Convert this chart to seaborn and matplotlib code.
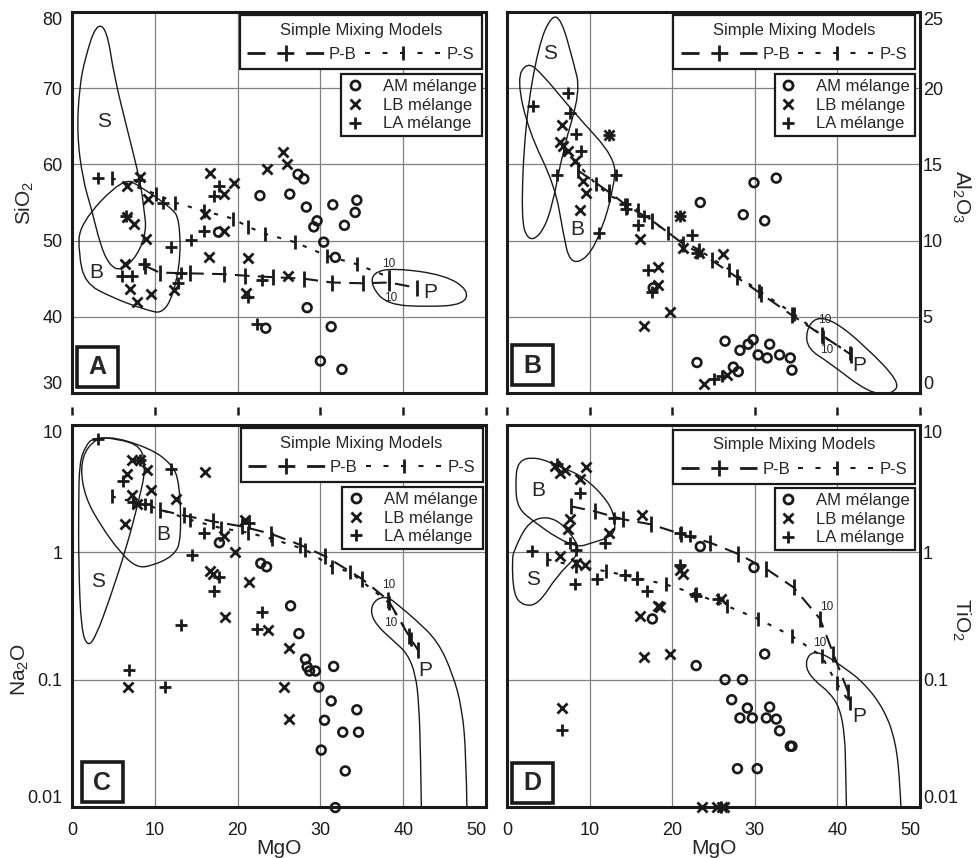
import numpy as np
import pandas as pd
import matplotlib
matplotlib.use("Agg")
import matplotlib.pyplot as plt
from matplotlib.lines import Line2D
from matplotlib.patches import PathPatch, Rectangle
from matplotlib.path import Path
import seaborn as sns

sns.set_theme(style="white")
plt.rcParams["font.family"] = ["Liberation Sans", "DejaVu Sans"]
plt.rcParams["mathtext.fontset"] = "custom"
plt.rcParams["mathtext.rm"] = "Liberation Sans"
plt.rcParams["mathtext.it"] = "Liberation Sans:italic"
plt.rcParams["mathtext.bf"] = "Liberation Sans:bold"

# ---------------------------------------------------------------- data
# (MgO, oxide) pairs, wt%

# Panel A: SiO2
A_AM = [(22.7, 55.9), (26.3, 56.1), (27.3, 58.7), (28.0, 58.1), (28.3, 54.4), (31.5, 54.7),
        (34.4, 55.3), (34.2, 53.7), (29.6, 52.6), (29.2, 51.8), (32.9, 52.0), (17.7, 51.1),
        (30.4, 49.8), (31.8, 47.8), (28.4, 41.2), (23.4, 38.5), (31.3, 38.7), (30.0, 34.2),
        (32.6, 33.1)]
A_LB = [(25.5, 61.6), (26.0, 60.0), (23.5, 59.4), (16.7, 58.9), (19.6, 57.5), (18.4, 56.1),
        (8.2, 58.3), (6.6, 57.2), (9.2, 55.4), (6.6, 53.1), (7.5, 52.2), (8.9, 50.2),
        (16.1, 53.5), (18.3, 51.3), (16.5, 47.9), (21.3, 47.7), (21.0, 43.1), (26.1, 45.3),
        (6.4, 46.9), (7.0, 43.6), (9.6, 43.0), (7.8, 41.9), (12.3, 43.5)]
A_LA = [(3.1, 58.2), (8.1, 57.9), (11.0, 55.0), (17.8, 57.1), (17.2, 55.8), (15.9, 51.2),
        (14.4, 50.1), (11.9, 49.2), (8.7, 46.9), (6.0, 45.4), (7.3, 45.3), (13.2, 45.7),
        (12.8, 44.4), (21.3, 42.6), (22.3, 39.1), (22.9, 44.8), (6.5, 53.2)]
A_PB = [(8.8, 46.7), (10.6, 45.8), (14.3, 45.7), (18.3, 45.6), (20.9, 45.4), (24.3, 45.2),
        (28.0, 45.0), (31.4, 44.5), (35.1, 44.4), (38.3, 44.5), (41.7, 43.8)]
A_PS = [(4.8, 58.2), (10.2, 56.1), (12.4, 55.0), (15.9, 53.9), (19.4, 52.9), (21.3, 51.8),
        (23.3, 50.9), (26.9, 49.8), (30.8, 48.0), (34.4, 46.9), (38.3, 45.2)]
A_S_FIELD = [(2.9, 78.4), (1.6, 74.0), (0.9, 70.2), (0.6, 64.0), (1.3, 58.0), (2.4, 54.0),
             (3.4, 49.5), (4.5, 46.8), (5.9, 46.0), (7.9, 48.0), (9.0, 51.3), (8.7, 54.0),
             (8.3, 57.5), (6.7, 64.5), (5.1, 71.5), (4.2, 77.8)]
A_B_FIELD = [(0.9, 52.2), (6.2, 58.3), (8.4, 57.0), (12.0, 54.3), (13.0, 52.8), (13.1, 46.5),
             (11.4, 40.3), (8.6, 41.0), (4.7, 42.6), (1.6, 44.4), (0.8, 48.2)]
A_P_FIELD = [(36.3, 45.8), (38.9, 46.4), (45.0, 45.5), (47.9, 43.5), (47.3, 41.6), (43.0, 41.3),
             (38.1, 41.6), (36.2, 43.9)]
A_TAGS = [("S", 3.9, 65.6), ("B", 2.9, 45.8), ("P", 43.3, 43.2)]
A_TEN = [(38.3, 46.9), (38.5, 42.5)]

# Panel B: Al2O3
B_AM = [(29.9, 13.8), (32.6, 14.1), (23.4, 12.5), (28.6, 11.7), (31.2, 11.3), (17.7, 6.9),
        (26.4, 3.4), (29.8, 3.5), (29.2, 3.2), (28.2, 2.8), (31.8, 3.2), (30.4, 2.5),
        (33.0, 2.5), (31.5, 2.3), (34.3, 2.3), (34.5, 1.5), (23.0, 2.0), (27.4, 1.7),
        (28.0, 1.4)]
B_LB = [(6.6, 17.6), (6.4, 16.5), (6.8, 16.2), (7.4, 15.9), (8.2, 15.2), (9.2, 13.9),
        (9.6, 13.1), (8.8, 12.0), (12.3, 16.9), (16.1, 10.1), (18.3, 8.3), (18.3, 7.1),
        (19.7, 5.3), (16.6, 4.4), (20.9, 11.6), (21.3, 9.5), (23.2, 9.2), (26.2, 9.1),
        (23.8, 0.6), (26.6, 1.2)]
B_LA = [(3.1, 18.8), (7.4, 19.7), (7.6, 18.4), (8.4, 17.0), (9.0, 15.9), (6.1, 14.3),
        (13.2, 14.3), (12.4, 16.9), (14.3, 12.4), (14.4, 12.1), (16.6, 11.6), (15.9, 11.0),
        (11.1, 10.5), (17.1, 8.1), (17.6, 6.6), (20.9, 11.6), (22.4, 10.4), (23.0, 9.2),
        (25.0, 0.9), (26.0, 1.1)]
B_PB = [(8.6, 14.6), (12.3, 13.2), (14.5, 12.3), (17.6, 11.3), (21.3, 9.8), (24.8, 8.7),
        (27.8, 7.6), (30.8, 6.5), (34.5, 5.1), (38.1, 3.8), (41.7, 2.5)]
B_PS = [(6.9, 16.0), (10.8, 13.7), (12.3, 13.0), (15.9, 12.0), (19.5, 10.5), (23.2, 9.4),
        (26.9, 8.1), (30.5, 6.7), (34.7, 5.2), (38.3, 3.7), (41.5, 2.6)]
B_S_FIELD = [(5.4, 24.8), (3.8, 22.8), (2.2, 17.7), (1.7, 11.5), (2.5, 10.0), (4.0, 10.3),
             (5.4, 12.0), (6.8, 16.0), (8.9, 19.8), (8.0, 21.8), (6.6, 24.5)]
B_B_FIELD = [(1.2, 20.6), (2.4, 21.7), (4.0, 21.1), (8.1, 18.4), (13.2, 15.4), (12.9, 13.4),
             (11.5, 10.7), (9.7, 8.8), (7.6, 8.5), (6.8, 10.5), (5.8, 13.6), (2.6, 17.2)]
B_P_FIELD = [(36.2, 4.1), (37.4, 5.0), (39.7, 4.7), (43.3, 3.1), (47.6, 0.7), (46.6, -0.1),
             (43.8, 0.0), (39.0, 2.0), (36.4, 2.9)]
B_TAGS = [("S", 5.2, 22.3), ("B", 8.5, 10.7), ("P", 42.7, 1.8)]
B_TEN = [(38.5, 4.8), (38.7, 2.8)]

# Panel C: Na2O (log)
C_AM = [(17.8, 1.19), (22.8, 0.82), (23.5, 0.77), (26.4, 0.38), (27.4, 0.23), (28.2, 0.145),
        (28.4, 0.126), (28.7, 0.117), (29.4, 0.117), (31.6, 0.127), (29.8, 0.0875),
        (31.3, 0.068), (34.4, 0.058), (30.5, 0.048), (32.7, 0.0387), (34.6, 0.0387),
        (30.1, 0.028), (33.0, 0.0192), (31.8, 0.0099)]
C_LB = [(7.2, 5.3), (8.2, 5.3), (6.6, 4.1), (9.0, 4.4), (9.6, 3.1), (7.2, 2.8), (7.8, 2.4),
        (6.4, 1.66), (12.5, 2.6), (16.1, 4.3), (18.3, 1.34), (19.7, 1.0), (20.9, 1.79),
        (21.4, 0.59), (16.7, 0.71), (17.0, 0.68), (18.5, 0.31), (23.7, 0.246), (26.2, 0.176),
        (25.6, 0.088), (26.2, 0.049), (6.8, 0.088)]
C_LA = [(3.1, 7.8), (6.1, 3.6), (8.2, 5.3), (12.0, 4.5), (7.4, 2.5), (8.8, 2.4), (16.0, 1.43),
        (14.5, 0.95), (17.7, 0.645), (17.2, 0.5), (22.9, 0.34), (22.3, 0.248), (13.2, 0.267),
        (6.9, 0.119), (11.2, 0.088), (21.4, 1.7)]
C_PB = [(10.6, 2.15), (13.5, 1.95), (17.0, 1.75), (20.5, 1.6), (24.0, 1.4), (27.5, 1.15),
        (30.6, 0.93), (35.0, 0.62), (38.2, 0.42), (40.7, 0.22), (41.8, 0.17)]
C_PS = [(4.8, 2.75), (9.5, 2.3), (14.3, 1.8), (18.0, 1.55), (21.2, 1.43), (24.1, 1.28),
        (28.2, 1.05), (31.4, 0.77), (33.6, 0.7), (38.3, 0.4), (41.0, 0.21)]
C_S_FIELD = [(1.6, 6.8), (2.6, 8.0), (5.5, 7.8), (8.4, 6.8), (8.9, 4.5), (8.1, 2.6), (6.6, 1.1),
             (4.5, 0.42), (2.9, 0.22), (1.9, 0.18), (1.1, 0.25), (0.8, 0.8), (0.8, 2.5),
             (0.9, 5.0)]
C_B_FIELD = [(1.8, 6.8), (4.0, 8.4), (9.4, 6.6), (12.1, 4.9), (13.0, 3.5), (13.2, 1.25),
             (12.3, 0.94), (9.6, 0.78), (7.8, 0.76), (5.8, 1.0), (3.4, 1.65), (1.6, 2.7),
             (1.0, 4.6)]
C_P_FIELD = [(42.2, 0.0095), (42.1, 0.026), (41.9, 0.064), (41.5, 0.11), (40.5, 0.16),
             (38.9, 0.2), (36.7, 0.27), (36.0, 0.35), (36.7, 0.43), (38.1, 0.45), (39.5, 0.38),
             (41.4, 0.30), (44.2, 0.2), (46.0, 0.11), (47.1, 0.06), (47.6, 0.026),
             (47.7, 0.0095)]
C_TAGS = [("S", 3.1, 0.59), ("B", 11.0, 1.38), ("P", 42.7, 0.117)]
C_TEN = [(38.3, 0.55), (38.5, 0.28)]

# Panel D: TiO2 (log)
D_AM = [(23.4, 1.11), (29.9, 0.76), (17.6, 0.30), (31.2, 0.159), (22.9, 0.129), (26.4, 0.1),
        (28.5, 0.1), (27.2, 0.0696), (29.1, 0.0598), (31.8, 0.061), (28.2, 0.05), (29.7, 0.05),
        (31.4, 0.05), (32.6, 0.049), (33.0, 0.0397), (34.3, 0.03), (34.5, 0.03), (27.9, 0.02),
        (30.3, 0.02)]
D_LB = [(5.8, 4.8), (6.4, 4.2), (7.0, 4.4), (8.8, 3.8), (9.6, 4.7), (7.6, 1.82), (7.4, 1.52),
        (12.3, 1.43), (16.3, 1.96), (6.4, 0.94), (8.4, 0.83), (9.4, 0.79), (21.3, 0.67),
        (21.0, 0.72), (25.9, 0.43), (18.3, 0.38), (18.5, 0.37), (16.1, 0.315), (16.6, 0.151),
        (19.7, 0.159), (6.6, 0.06), (23.6, 0.01), (25.4, 0.01), (26.0, 0.01), (26.3, 0.01)]
D_LA = [(6.0, 4.9), (8.8, 2.95), (7.6, 1.19), (8.4, 1.05), (3.0, 1.02), (8.2, 0.56),
        (10.9, 0.62), (14.3, 0.66), (15.7, 0.62), (17.0, 0.50), (21.0, 0.79), (22.8, 0.47),
        (22.9, 0.45), (11.9, 1.19), (21.0, 1.43), (22.1, 1.35), (6.7, 0.04), (13.0, 1.87),
        (25.6, 0.43), (25.9, 0.01)]
D_PB = [(7.7, 2.3), (10.6, 2.1), (14.0, 1.82), (17.4, 1.66), (21.1, 1.39), (24.6, 1.19),
        (28.0, 0.97), (31.4, 0.74), (34.7, 0.53), (37.9, 0.3), (39.5, 0.16), (41.3, 0.08)]
D_PS = [(4.9, 0.88), (8.3, 0.78), (12.0, 0.71), (15.7, 0.63), (19.2, 0.56), (22.9, 0.47),
        (26.6, 0.38), (30.4, 0.30), (34.5, 0.22), (38.1, 0.153), (39.9, 0.094), (41.5, 0.066)]
D_B_FIELD = [(1.3, 5.3), (3.6, 5.6), (6.1, 4.8), (9.4, 3.9), (12.3, 2.5), (13.1, 1.8),
             (13.0, 1.35), (10.0, 1.17), (8.6, 1.1), (6.0, 1.3), (3.4, 1.72), (1.3, 2.2),
             (1.0, 3.4)]
D_S_FIELD = [(0.9, 1.05), (2.3, 1.62), (4.0, 1.9), (5.9, 1.82), (7.4, 1.48), (8.7, 1.12),
             (8.4, 0.92), (6.1, 0.66), (3.8, 0.39), (2.0, 0.38), (0.8, 0.46), (0.6, 0.88)]
D_P_FIELD = [(41.1, 0.0095), (41.0, 0.02), (40.9, 0.036), (40.3, 0.06), (39.0, 0.08),
             (37.3, 0.097), (36.1, 0.124), (36.5, 0.16), (37.9, 0.165), (40.4, 0.13),
             (43.2, 0.095), (45.7, 0.058), (47.1, 0.032), (47.6, 0.0145), (47.7, 0.0095)]
D_TAGS = [("B", 3.8, 3.04), ("S", 3.2, 0.61), ("P", 42.7, 0.051)]
D_TEN = [(38.7, 0.37), (37.9, 0.195)]

MGO_TICKS = [0, 10, 20, 30, 40, 50]
SIO2_TICKS = [30, 40, 50, 60, 70, 80]
AL2O3_TICKS = [0, 5, 10, 15, 20, 25]
LOG_TICKS = [0.01, 0.1, 1, 10]
LOG_LABELS = ["0.01", "0.1", "1", "10"]

# ---------------------------------------------------------------- helpers
W, H = 977, 858
fig = plt.figure(figsize=(W / 100, H / 100), dpi=100)


def px_axes(x0, y0, x1, y1):
    return fig.add_axes([x0 / W, 1 - y1 / H, (x1 - x0) / W, (y1 - y0) / H])


PB_STYLE = dict(linestyle=(0, (7, 4)), linewidth=1.5, markersize=11)
PS_STYLE = dict(linestyle=(0, (2, 4.5)), linewidth=1.5, markersize=10)


def scatter_groups(ax, am, lb, la):
    for pts, mk in ((am, "o"), (lb, "x"), (la, "+")):
        df = pd.DataFrame(pts, columns=["MgO", "oxide"])
        if mk == "o":
            sns.scatterplot(data=df, x="MgO", y="oxide", marker="o", s=40,
                            facecolors="none", edgecolor="k", linewidth=1.9,
                            ax=ax, zorder=4, clip_on=False)
        else:
            sns.scatterplot(data=df, x="MgO", y="oxide", marker=mk,
                            s=52 if mk == "x" else 66, color="k", linewidth=2.0,
                            ax=ax, zorder=4, clip_on=False)


def model_line(ax, pts, style):
    df = pd.DataFrame(pts, columns=["MgO", "oxide"])
    sns.lineplot(data=df, x="MgO", y="oxide", sort=False, estimator=None,
                 color="k", marker="|", markeredgewidth=2.0, markeredgecolor="k",
                 ax=ax, zorder=3, **style)


def field(ax, pts, logy=False, closed=True):
    p = np.array(pts, float)
    if logy:
        p[:, 1] = np.log10(p[:, 1])
    n = len(p)
    if closed:
        mids = (p + np.roll(p, -1, axis=0)) / 2
        verts = [mids[-1]]
        codes = [Path.MOVETO]
        for i in range(n):
            verts += [p[i], mids[i]]
            codes += [Path.CURVE3, Path.CURVE3]
    else:
        verts = [p[0]]
        codes = [Path.MOVETO]
        for i in range(1, n - 1):
            end = (p[i] + p[i + 1]) / 2 if i < n - 2 else p[n - 1]
            verts += [p[i], end]
            codes += [Path.CURVE3, Path.CURVE3]
    verts = np.array(verts)
    if logy:
        verts[:, 1] = 10 ** verts[:, 1]
    ax.add_patch(PathPatch(Path(verts, codes), fill=False, edgecolor="#1a1a1a",
                           linewidth=1.0, zorder=2))


def mixing_legends(ax, top1, top2, right):
    pb = Line2D([], [], color="k", linewidth=2.0, linestyle=(0, (6.5, 4.25, 6.1, 4.25)),
                marker="|", markersize=12, markeredgewidth=2.0)
    ps = Line2D([], [], color="k", linewidth=1.5, linestyle=(0, (2.4, 6.0)),
                marker="|", markersize=10, markeredgewidth=2.0)
    leg1 = ax.legend(handles=[pb, ps], labels=["P-B", "P-S"], title="Simple Mixing Models",
                     ncol=2, loc="upper right", bbox_to_anchor=(right, top1),
                     borderaxespad=0, fontsize=12, title_fontsize=12, handlelength=4.6,
                     handletextpad=0.3, columnspacing=0.5, numpoints=1, fancybox=False,
                     framealpha=1, edgecolor="k", borderpad=0.45, labelspacing=0.55)
    leg1.get_frame().set_linewidth(1.6)
    ax.add_artist(leg1)
    am = Line2D([], [], marker="o", markerfacecolor="none", markeredgecolor="k",
                markeredgewidth=2.0, markersize=6.5, linestyle="none")
    lb = Line2D([], [], marker="x", color="k", markeredgewidth=2.0, markersize=7.5,
                linestyle="none")
    la = Line2D([], [], marker="+", color="k", markeredgewidth=2.0, markersize=8.5,
                linestyle="none")
    leg2 = ax.legend(handles=[am, lb, la], labels=["AM mélange", "LB mélange", "LA mélange"],
                     loc="upper right", bbox_to_anchor=(right, top2), borderaxespad=0,
                     fontsize=12, handlelength=1.0, handletextpad=1.2, fancybox=False,
                     framealpha=1, edgecolor="k", borderpad=0.3, labelspacing=0.22)
    leg2.get_frame().set_linewidth(1.6)


def panel_box(ax, letter, x0, y0):
    ax.add_patch(Rectangle((x0, y0), 0.099, 0.105, transform=ax.transAxes, facecolor="white",
                           edgecolor="k", linewidth=2.6, zorder=6))
    ax.text(x0 + 0.0495, y0 + 0.051, letter, transform=ax.transAxes, ha="center",
            va="center", fontsize=18, fontweight="bold", zorder=7)


def style_axes(ax):
    ax.set_xlim(0, 50)
    ax.set_xticks(MGO_TICKS)
    ax.grid(True, which="major", color="#808080", linewidth=0.9)
    ax.set_axisbelow(True)
    for s in ax.spines.values():
        s.set_visible(True)
        s.set_color("k")
        s.set_linewidth(2.2)
    ax.tick_params(length=0, labelsize=13, colors="k")
    ax.set_xlabel("")
    ax.set_ylabel("")


def end_labels(ax):
    labs = ax.get_yticklabels()
    labs[0].set_va("bottom")
    labs[-1].set_va("top")


def annotate(ax, tags, tens):
    for t, x, y in tags:
        ax.text(x, y, t, fontsize=15, ha="center", va="center", zorder=5)
    for x, y in tens:
        ax.text(x, y, "10", fontsize=8.5, ha="center", va="center", zorder=5)


# ---------------------------------------------------------------- panels
axA = px_axes(72, 12, 486, 393)
axB = px_axes(507, 12, 920, 393)
axC = px_axes(72, 425, 486, 807)
axD = px_axes(507, 425, 920, 807)

# A: SiO2
field(axA, A_S_FIELD)
field(axA, A_B_FIELD)
field(axA, A_P_FIELD)
model_line(axA, A_PB, PB_STYLE)
model_line(axA, A_PS, PS_STYLE)
scatter_groups(axA, A_AM, A_LB, A_LA)
style_axes(axA)
axA.set_ylim(30, 80)
axA.set_yticks(SIO2_TICKS)
axA.tick_params(labelbottom=False, pad=7)
end_labels(axA)
axA.set_ylabel(r"SiO$_2$", fontsize=15)
axA.yaxis.set_label_coords(-0.088, 0.5)
annotate(axA, A_TAGS, A_TEN)
mixing_legends(axA, 0.992, 0.837, 0.990)
panel_box(axA, "A", 0.012, 0.017)

# B: Al2O3
field(axB, B_S_FIELD)
field(axB, B_B_FIELD)
field(axB, B_P_FIELD)
model_line(axB, B_PB, PB_STYLE)
model_line(axB, B_PS, PS_STYLE)
scatter_groups(axB, B_AM, B_LB, B_LA)
style_axes(axB)
axB.set_ylim(0, 25)
axB.set_yticks(AL2O3_TICKS)
axB.yaxis.tick_right()
axB.tick_params(labelbottom=False, labelleft=False, labelright=True, pad=2)
end_labels(axB)
axB.yaxis.set_label_position("right")
axB.set_ylabel(r"Al$_2$O$_3$", fontsize=15, rotation=270)
axB.yaxis.set_label_coords(1.127, 0.515)
annotate(axB, B_TAGS, B_TEN)
mixing_legends(axB, 0.992, 0.837, 0.988)
panel_box(axB, "B", 0.012, 0.021)

# C: Na2O
axC.set_yscale("log")
field(axC, C_S_FIELD, logy=True)
field(axC, C_B_FIELD, logy=True)
field(axC, C_P_FIELD, logy=True, closed=False)
model_line(axC, C_PB, PB_STYLE)
model_line(axC, C_PS, PS_STYLE)
scatter_groups(axC, C_AM, C_LB, C_LA)
style_axes(axC)
axC.set_ylim(0.01, 10)
axC.minorticks_off()
axC.set_yticks(LOG_TICKS, LOG_LABELS)
axC.tick_params(axis="y", pad=7)
axC.tick_params(axis="x", pad=11)
end_labels(axC)
axC.set_ylabel(r"Na$_2$O", fontsize=15)
axC.yaxis.set_label_coords(-0.100, 0.36)
axC.set_xlabel("MgO", fontsize=15)
axC.xaxis.set_label_coords(0.5, -0.085)
axC.get_xticklabels()[-1].set_ha("right")
annotate(axC, C_TAGS, C_TEN)
mixing_legends(axC, 0.992, 0.838, 0.992)
panel_box(axC, "C", 0.024, 0.013)

# D: TiO2
axD.set_yscale("log")
field(axD, D_S_FIELD, logy=True)
field(axD, D_B_FIELD, logy=True)
field(axD, D_P_FIELD, logy=True, closed=False)
model_line(axD, D_PB, PB_STYLE)
model_line(axD, D_PS, PS_STYLE)
scatter_groups(axD, D_AM, D_LB, D_LA)
style_axes(axD)
axD.set_ylim(0.01, 10)
axD.minorticks_off()
axD.set_yticks(LOG_TICKS, LOG_LABELS)
axD.yaxis.tick_right()
axD.tick_params(axis="y", labelleft=False, labelright=True, pad=2)
axD.tick_params(axis="x", pad=11)
end_labels(axD)
axD.yaxis.set_label_position("right")
axD.set_ylabel(r"TiO$_2$", fontsize=15, rotation=270)
axD.yaxis.set_label_coords(1.127, 0.49)
axD.set_xlabel("MgO", fontsize=15)
axD.xaxis.set_label_coords(0.5, -0.085)
axD.get_xticklabels()[-1].set_ha("right")
annotate(axD, D_TAGS, D_TEN)
mixing_legends(axD, 0.987, 0.835, 0.988)
panel_box(axD, "D", 0.012, 0.011)

# shared MgO tick marks between the two rows
for x0, x1 in ((72, 486), (507, 920)):
    strip = px_axes(x0, 404, x1, 415)
    strip.set_xlim(0, 50)
    strip.set_xticks(MGO_TICKS)
    strip.set_yticks([])
    strip.patch.set_alpha(0)
    for s in strip.spines.values():
        s.set_visible(False)
    strip.tick_params(axis="x", bottom=True, direction="in", length=6, width=1.8,
                      labelbottom=False, colors="k")

fig.savefig("out.png", dpi=100)
